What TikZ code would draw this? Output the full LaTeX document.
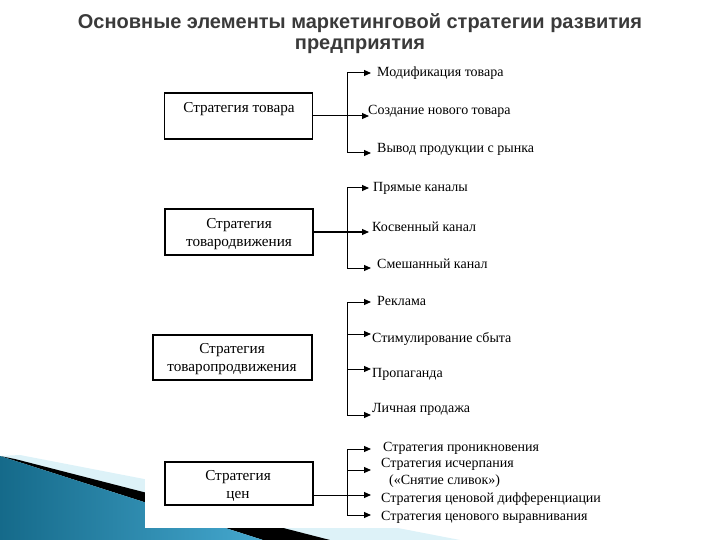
\documentclass[tikz,border=0pt]{standalone}
\usepackage{fontspec}
\setmainfont{Liberation Serif}
\newfontfamily\titlefont{Liberation Sans}
\usetikzlibrary{arrows.meta}
\definecolor{titlegray}{HTML}{3A3A3A}
\definecolor{tealdark}{HTML}{156A8A}
\definecolor{teallight}{HTML}{45A8CF}
\definecolor{glow}{HTML}{DDF2F8}
\tikzset{
  box/.style={draw=black, line width=1.1pt, minimum width=148pt, minimum height=46pt, inner sep=0pt},
  boxtext/.style={font=\fontsize{15.2}{18}\selectfont, align=center, inner sep=0pt},
  item/.style={font=\fontsize{14}{16}\selectfont, anchor=west, inner sep=0pt, align=left},
  conn/.style={draw=black, line width=1pt},
  arr/.style={conn, -{Triangle[length=7pt,width=6pt]}},
  ttl/.style={font=\titlefont\bfseries\fontsize{20}{23}\selectfont, text=titlegray, inner sep=0pt}
}
\begin{document}
\begin{tikzpicture}[x=1pt,y=-1pt]
\useasboundingbox (0,0) rectangle (720,540);
% background decoration
\fill[glow] (20,455) -- (460,540) -- (320,540) -- (0,456) -- cycle;
\fill[black] (15,459) -- (330,540) -- (263,540) -- (0,456) -- cycle;
\shade[left color=tealdark, right color=teallight] (0,456) -- (263,540) -- (0,540) -- cycle;
\fill[white] (145,58) rectangle (720,528);
% title
\node[ttl] (title1) at (360,23) {Основные элементы маркетинговой стратегии развития};
\node[ttl] (title2) at (360,46) {предприятия};
% boxes
\node[box] (b1) at (238.5,116) {};
\node[boxtext] (t1) at (239,109) {Стратегия товара};
\node[box] (b2) at (239,232) {};
\node[boxtext] (t2) at (239,234) {Стратегия\\товародвижения};
\node[box, minimum width=159pt, minimum height=45pt] (b3) at (232.5,357.5) {};
\node[boxtext] (t3) at (232,359) {Стратегия\\товаропродвижения};
\node[box, minimum height=43pt] (b4) at (239,483.5) {};
\node[boxtext] (t4) at (238,486) {Стратегия\\цен};
% group 1
\coordinate (v1a) at (347,73); \coordinate (v1b) at (347,116); \coordinate (v1c) at (347,153);
\coordinate (e1a) at (371,73); \coordinate (e1b) at (369,116); \coordinate (e1c) at (371,153);
\draw[conn] (v1a) -- (v1c);
\draw[conn] (b1.east) -- (v1b);
\draw[arr] (v1a) -- (e1a);
\draw[arr] (v1b) -- (e1b);
\draw[arr] (v1c) -- (e1c);
\node[item] (i1a) at (377,73) {Модификация товара};
\node[item] (i1b) at (368,111) {Создание нового товара};
\node[item] (i1c) at (377,149) {Вывод продукции с рынка};
% group 2
\coordinate (v2a) at (347,188); \coordinate (v2b) at (347,232); \coordinate (v2c) at (347,268);
\coordinate (e2a) at (369,188); \coordinate (e2b) at (369,232); \coordinate (e2c) at (371,268);
\draw[conn] (v2a) -- (v2c);
\draw[conn] (b2.east) -- (v2b);
\draw[arr] (v2a) -- (e2a);
\draw[arr] (v2b) -- (e2b);
\draw[arr] (v2c) -- (e2c);
\node[item] (i2a) at (373,188) {Прямые каналы};
\node[item] (i2b) at (372,227) {Косвенный канал};
\node[item] (i2c) at (377,264) {Смешанный канал};
% group 3
\coordinate (v3a) at (347,302); \coordinate (v3b) at (347,334); \coordinate (v3c) at (347,369); \coordinate (v3d) at (347,415);
\coordinate (e3a) at (371,302); \coordinate (e3b) at (371,334); \coordinate (e3c) at (371,369); \coordinate (e3d) at (371,415);
\draw[conn] (v3a) -- (v3d);
\draw[arr] (v3a) -- (e3a);
\draw[arr] (v3b) -- (e3b);
\draw[arr] (v3c) -- (e3c);
\draw[arr] (v3d) -- (e3d);
\node[item] (i3a) at (377,301) {Реклама};
\node[item] (i3b) at (372,339) {Стимулирование сбыта};
\node[item] (i3c) at (372,374) {Пропаганда};
\node[item] (i3d) at (372,409) {Личная продажа};
% group 4
\coordinate (v4a) at (347,449); \coordinate (v4b) at (347,470); \coordinate (v4c) at (347,495); \coordinate (v4d) at (347,515);
\coordinate (e4a) at (371,449); \coordinate (e4b) at (371,470); \coordinate (e4c) at (371,495); \coordinate (e4d) at (371,515);
\draw[conn] (v4a) -- (v4d);
\draw[conn] (b4.east |- v4c) -- (v4c);
\draw[arr] (v4a) -- (e4a);
\draw[arr] (v4b) -- (e4b);
\draw[arr] (v4c) -- (e4c);
\draw[arr] (v4d) -- (e4d);
\node[item] (i4a) at (383,448) {Стратегия проникновения};
\node[item] (i4b) at (381,464) {Стратегия исчерпания};
\node[item] (i4c) at (389,481) {(«Снятие сливок»)};
\node[item] (i4d) at (381,499) {Стратегия ценовой дифференциации};
\node[item] (i4e) at (381,517) {Стратегия ценового выравнивания};
\end{tikzpicture}
\end{document}
